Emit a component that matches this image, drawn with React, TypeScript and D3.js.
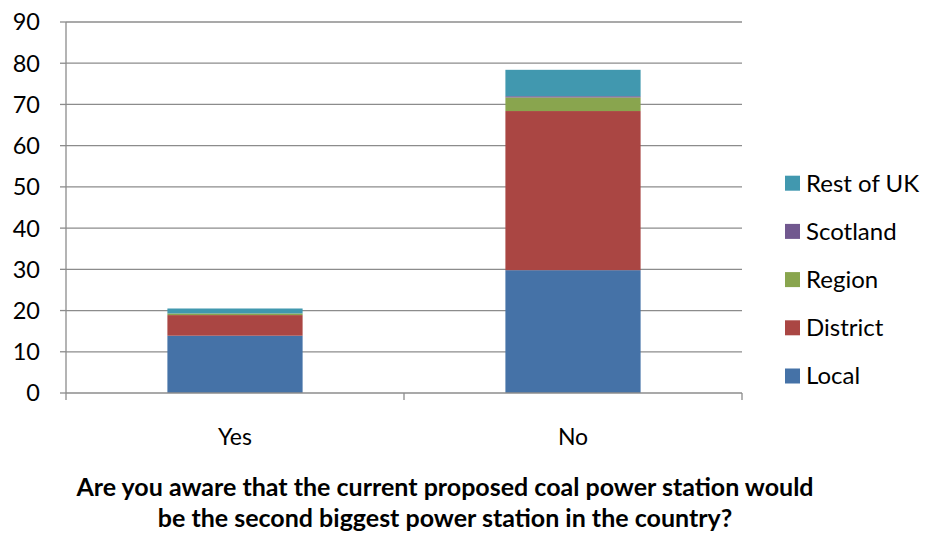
import React from "react";
import * as d3 from "d3";

const categories = ["Yes", "No"];
const seriesNames = ["Local", "District", "Region", "Scotland", "Rest of UK"];
const localValues = [13.9, 29.8];
const districtValues = [5.0, 38.6];
const regionValues = [0.4, 3.3];
const scotlandValues = [0.0, 0.3];
const restValues = [1.2, 6.4];
const yTicks = [0, 10, 20, 30, 40, 50, 60, 70, 80, 90];
const colors = ["#4572A7", "#AA4643", "#89A54E", "#71588F", "#4198AF"];
const titleLines = [
  "Are you aware that the current proposed coal power station would",
  "be the second biggest power station in the country?",
];

export default function App() {
  const W = 931, H = 533;
  const left = 66, right = 742, top = 22, bottom = 393;
  const x = d3.scaleBand<string>().domain(categories).range([left, right]).paddingInner(0.6).paddingOuter(0.3);
  const y = d3.scaleLinear().domain([0, 90]).range([bottom, top]);
  const rows = categories.map((c, i) => ({
    cat: c,
    Local: localValues[i],
    District: districtValues[i],
    Region: regionValues[i],
    Scotland: scotlandValues[i],
    "Rest of UK": restValues[i],
  }));
  const stack = d3.stack<any>().keys(seriesNames)(rows);
  const font = "Lato, 'Open Sans', 'Liberation Sans', sans-serif";
  const grid = "#8c8c8c";
  const legendYs = seriesNames.map((_, i) => 376 - i * 48.2);
  const bounds = [left, (left + right) / 2, right];
  return (
    <svg width={W} height={H} style={{ position: "absolute", left: 0, top: 0, background: "#fff" }}>
      {yTicks.map((t) => (
        <g key={t}>
          {t > 0 && <line x1={left} x2={right} y1={y(t)} y2={y(t)} stroke={grid} strokeWidth={1.3} />}
          <line x1={left - 6} x2={left} y1={y(t)} y2={y(t)} stroke={grid} strokeWidth={1.3} />
          <text x={40} y={y(t)} dy="0.36em" textAnchor="end" fontFamily={font} fontSize={23.5} fill="#000">
            {t}
          </text>
        </g>
      ))}
      {stack.map((s, si) =>
        s.map((d, di) => (
          <rect
            key={si + "-" + di}
            x={x(categories[di])}
            width={x.bandwidth()}
            y={y(d[1])}
            height={Math.max(0, y(d[0]) - y(d[1]))}
            fill={colors[si]}
          />
        ))
      )}
      <line x1={left} x2={left} y1={top} y2={bottom} stroke={grid} strokeWidth={1.3} />
      <line x1={left} x2={right} y1={bottom} y2={bottom} stroke={grid} strokeWidth={1.5} />
      {bounds.map((b, i) => (
        <line key={i} x1={b} x2={b} y1={bottom} y2={bottom + 7} stroke={grid} strokeWidth={1.3} />
      ))}
      {categories.map((c) => (
        <text key={c} x={(x(c) as number) + x.bandwidth() / 2} y={437} dy="0.35em" textAnchor="middle" fontFamily={font} fontSize={23} fill="#000">
          {c}
        </text>
      ))}
      {seriesNames.map((n, i) => (
        <g key={n}>
          <rect x={785} y={legendYs[i] - 7.5} width={15} height={15} fill={colors[i]} />
          <text x={806} y={legendYs[i]} dy="0.35em" fontFamily={font} fontSize={24} fill="#000">
            {n}
          </text>
        </g>
      ))}
      {titleLines.map((l, i) => (
        <text key={i} x={445} y={496 + i * 31} textAnchor="middle" fontFamily={font} fontSize={25} fontWeight="bold" fill="#000">
          {l}
        </text>
      ))}
    </svg>
  );
}
